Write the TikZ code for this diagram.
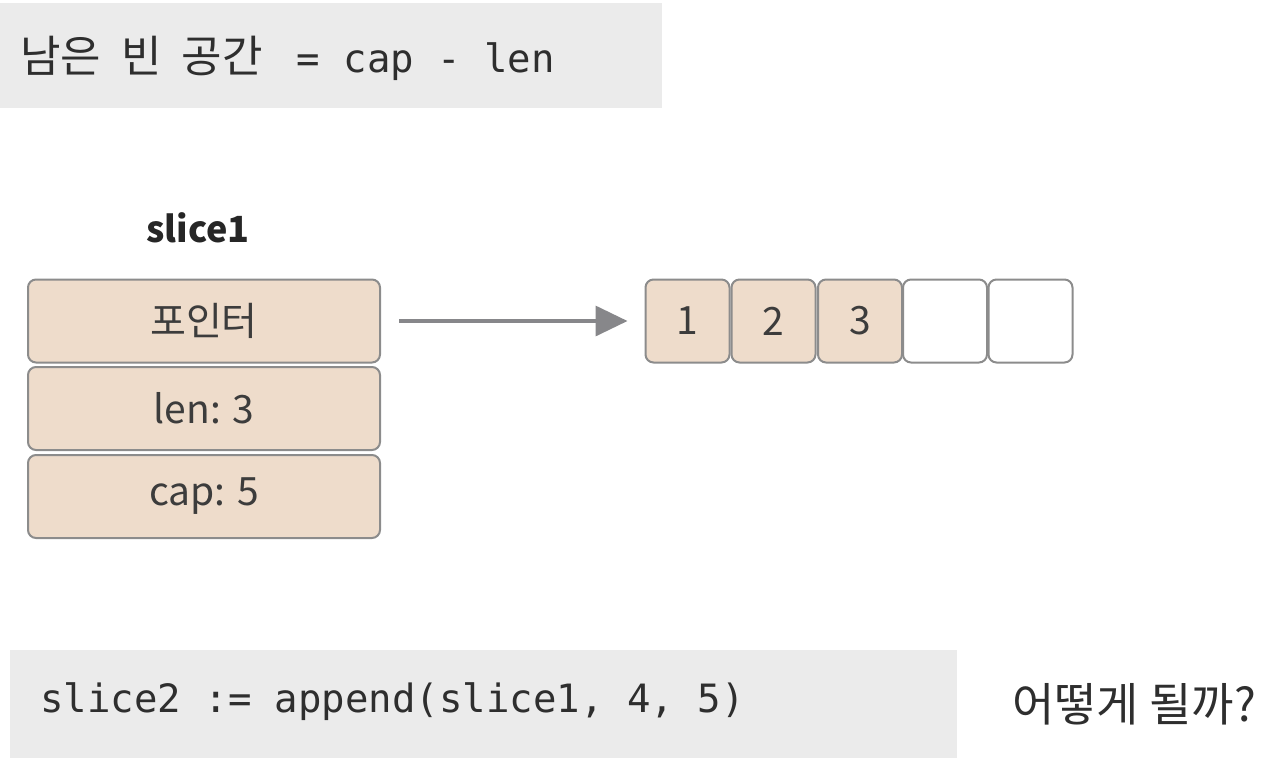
\documentclass[tikz,border=0pt]{standalone}
\usepackage{fontspec}
\usepackage{xcolor}
\usetikzlibrary{arrows.meta}
\setmainfont{Noto Sans CJK KR}
\setmonofont{DejaVu Sans Mono}
\newfontfamily\krfont{Noto Sans CJK KR}
\definecolor{boxfill}{RGB}{238,220,203}
\definecolor{boxline}{RGB}{140,140,140}
\definecolor{codebg}{RGB}{235,235,235}
\definecolor{inkgray}{RGB}{60,60,60}
\definecolor{arrowgray}{RGB}{135,135,138}

\begin{document}
\begin{tikzpicture}[x=1pt,y=-1pt,
  field/.style={draw=boxline, fill=boxfill, line width=2pt, rounded corners=8pt,
    minimum width=352pt, minimum height=83pt, text=inkgray,
    font=\fontsize{39}{39}\selectfont},
  cell/.style={draw=boxline, line width=2pt, rounded corners=8pt,
    minimum width=84pt, minimum height=83pt, text=inkgray,
    font=\fontsize{39}{39}\selectfont},
  code/.style={anchor=west, inner sep=0pt, text=black!82,
    font=\fontsize{39}{39}\selectfont}]
\useasboundingbox (0,0) rectangle (1262,764);

% banners
\fill [codebg] (0,3) rectangle (662,108);
\fill [codebg] (10,650) rectangle (957,758);
\node [code] (gap) at (20,58) {{\krfont\fontsize{44}{44}\selectfont 남은\hspace{20pt}빈\hspace{20pt}공간}\hspace{34pt}{\ttfamily = cap - len}};
\node [code] (call) at (40,702) {\ttfamily slice2 := append(slice1, 4, 5)};
\node [code, font=\fontsize{46}{46}\selectfont] (ask) at (1012,704) {어떻게 될까?};

% slice header
\node [text=black!85, font=\fontsize{36}{36}\selectfont\bfseries] (name) at (198,228) {slice1};
\node [field] (ptr) at (204,321) {포인터};
\node [field] (len) at (204,408.5) {len: 3};
\node [field] (cap) at (204,496.5) {cap: 5};

% backing array
\node [cell, fill=boxfill] (c1) at (687.5,321) {1};
\node [cell, fill=boxfill] (c2) at (773.5,321) {2};
\node [cell, fill=boxfill] (c3) at (860,321) {3};
\node [cell, fill=white] (c4) at (945,321) {};
\node [cell, fill=white] (c5) at (1030.5,321) {};

\draw [arrowgray, line width=3.5pt, -{Triangle[length=32pt,width=30pt]},
  shorten <=18pt, shorten >=17pt] (ptr.east) -- (c1.west);

\end{tikzpicture}
\end{document}
